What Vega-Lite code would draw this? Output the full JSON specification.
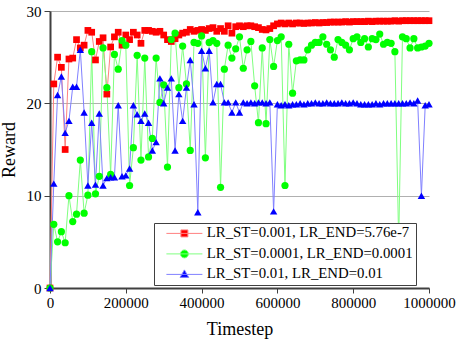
{
"$schema": "https://vega.github.io/schema/vega-lite/v6.json",
"width": 379, "height": 277,
"autosize": {"type": "none"},
"padding": {"left": 50, "top": 11, "right": 28, "bottom": 55},
"background": "white",
"config": {"view": {"stroke": null}, "font": "Liberation Serif",
  "legend": {"labelFont": "Liberation Serif, Times New Roman, serif", "labelFontSize": 14.8, "labelColor": "black"}},
"datasets": {
"rewards": [
{"s":"a","t":0,"r":0},{"s":"a","t":10000,"r":22.1},{"s":"a","t":20000,"r":25.0},{"s":"a","t":30000,"r":23.9},{"s":"a","t":40000,"r":15.0},{"s":"a","t":50000,"r":24.8},{"s":"a","t":60000,"r":24.9},{"s":"a","t":70000,"r":26.9},{"s":"a","t":80000,"r":26.0},{"s":"a","t":90000,"r":26.3},{"s":"a","t":100000,"r":27.9},
{"s":"a","t":110000,"r":27.7},{"s":"a","t":120000,"r":24.7},{"s":"a","t":130000,"r":26.7},{"s":"a","t":140000,"r":27.1},{"s":"a","t":150000,"r":21.0},{"s":"a","t":160000,"r":26.1},{"s":"a","t":170000,"r":27.2},{"s":"a","t":180000,"r":27.7},{"s":"a","t":190000,"r":26.3},{"s":"a","t":200000,"r":27.4},
{"s":"a","t":210000,"r":26.9},{"s":"a","t":220000,"r":27.7},{"s":"a","t":230000,"r":27.4},{"s":"a","t":240000,"r":26.5},{"s":"a","t":250000,"r":27.9},{"s":"a","t":260000,"r":27.9},{"s":"a","t":270000,"r":27.8},{"s":"a","t":280000,"r":27.7},{"s":"a","t":290000,"r":27.8},{"s":"a","t":300000,"r":27.4},
{"s":"a","t":310000,"r":26.9},{"s":"a","t":320000,"r":26.7},{"s":"a","t":330000,"r":27.0},{"s":"a","t":340000,"r":27.4},{"s":"a","t":350000,"r":27.6},{"s":"a","t":360000,"r":27.7},{"s":"a","t":370000,"r":28.0},{"s":"a","t":380000,"r":27.8},{"s":"a","t":390000,"r":27.9},{"s":"a","t":400000,"r":28.0},
{"s":"a","t":410000,"r":27.9},{"s":"a","t":420000,"r":28.1},{"s":"a","t":430000,"r":28.2},{"s":"a","t":440000,"r":27.8},{"s":"a","t":450000,"r":28.1},{"s":"a","t":460000,"r":27.8},{"s":"a","t":470000,"r":28.4},{"s":"a","t":480000,"r":27.6},{"s":"a","t":490000,"r":28.3},{"s":"a","t":500000,"r":28.4},
{"s":"a","t":510000,"r":28.3},{"s":"a","t":520000,"r":28.4},{"s":"a","t":530000,"r":28.4},{"s":"a","t":540000,"r":28.3},{"s":"a","t":550000,"r":28.2},{"s":"a","t":560000,"r":28.0},{"s":"a","t":570000,"r":27.95},{"s":"a","t":580000,"r":28.1},{"s":"a","t":590000,"r":28.4},{"s":"a","t":600000,"r":28.6},
{"s":"a","t":610000,"r":28.7},{"s":"a","t":620000,"r":28.6},{"s":"a","t":630000,"r":28.7},{"s":"a","t":640000,"r":28.6},{"s":"a","t":650000,"r":28.7},{"s":"a","t":660000,"r":28.7},{"s":"a","t":670000,"r":28.65},{"s":"a","t":680000,"r":28.7},{"s":"a","t":690000,"r":28.7},{"s":"a","t":700000,"r":28.75},
{"s":"a","t":710000,"r":28.7},{"s":"a","t":720000,"r":28.75},{"s":"a","t":730000,"r":28.75},{"s":"a","t":740000,"r":28.8},{"s":"a","t":750000,"r":28.8},{"s":"a","t":760000,"r":28.8},{"s":"a","t":770000,"r":28.8},{"s":"a","t":780000,"r":28.85},{"s":"a","t":790000,"r":28.8},{"s":"a","t":800000,"r":28.85},
{"s":"a","t":810000,"r":28.85},{"s":"a","t":820000,"r":28.85},{"s":"a","t":830000,"r":28.85},{"s":"a","t":840000,"r":28.9},{"s":"a","t":850000,"r":28.85},{"s":"a","t":860000,"r":28.9},{"s":"a","t":870000,"r":28.9},{"s":"a","t":880000,"r":28.9},{"s":"a","t":890000,"r":28.9},{"s":"a","t":900000,"r":28.9},
{"s":"a","t":910000,"r":28.95},{"s":"a","t":920000,"r":28.9},{"s":"a","t":930000,"r":28.95},{"s":"a","t":940000,"r":28.95},{"s":"a","t":950000,"r":28.95},{"s":"a","t":960000,"r":28.95},{"s":"a","t":970000,"r":28.95},{"s":"a","t":980000,"r":28.95},{"s":"a","t":990000,"r":28.95},{"s":"a","t":1000000,"r":28.95},
{"s":"b","t":0,"r":0},{"s":"b","t":10000,"r":6.9},{"s":"b","t":20000,"r":5.0},{"s":"b","t":30000,"r":6.1},{"s":"b","t":40000,"r":4.9},{"s":"b","t":50000,"r":10.0},{"s":"b","t":60000,"r":7.2},{"s":"b","t":70000,"r":8.0},{"s":"b","t":80000,"r":13.85},{"s":"b","t":90000,"r":8.1},{"s":"b","t":100000,"r":10.05},
{"s":"b","t":110000,"r":25.6},{"s":"b","t":120000,"r":10.2},{"s":"b","t":130000,"r":12.1},{"s":"b","t":140000,"r":26.0},{"s":"b","t":150000,"r":21.7},{"s":"b","t":160000,"r":12.3},{"s":"b","t":170000,"r":25.3},{"s":"b","t":180000,"r":23.7},{"s":"b","t":190000,"r":26.8},{"s":"b","t":200000,"r":26.3},
{"s":"b","t":210000,"r":11.1},{"s":"b","t":220000,"r":15.2},{"s":"b","t":230000,"r":25.2},{"s":"b","t":240000,"r":13.85},{"s":"b","t":250000,"r":24.9},{"s":"b","t":260000,"r":14.2},{"s":"b","t":270000,"r":16.2},{"s":"b","t":280000,"r":24.9},{"s":"b","t":290000,"r":20.1},{"s":"b","t":300000,"r":22.0},
{"s":"b","t":310000,"r":13.1},{"s":"b","t":320000,"r":26.9},{"s":"b","t":330000,"r":27.6},{"s":"b","t":340000,"r":21.7},{"s":"b","t":350000,"r":26.2},{"s":"b","t":360000,"r":22.1},{"s":"b","t":370000,"r":14.9},{"s":"b","t":380000,"r":26.6},{"s":"b","t":390000,"r":26.5},{"s":"b","t":400000,"r":27.3},
{"s":"b","t":410000,"r":14.1},{"s":"b","t":420000,"r":26.6},{"s":"b","t":430000,"r":26.8},{"s":"b","t":440000,"r":26.5},{"s":"b","t":450000,"r":10.9},{"s":"b","t":460000,"r":23.7},{"s":"b","t":470000,"r":26.3},{"s":"b","t":480000,"r":24.9},{"s":"b","t":490000,"r":25.9},{"s":"b","t":500000,"r":27.2},
{"s":"b","t":510000,"r":23.8},{"s":"b","t":520000,"r":25.8},{"s":"b","t":530000,"r":26.7},{"s":"b","t":540000,"r":21.9},{"s":"b","t":550000,"r":17.9},{"s":"b","t":560000,"r":26.0},{"s":"b","t":570000,"r":17.8},{"s":"b","t":580000,"r":26.9},{"s":"b","t":590000,"r":24.0},{"s":"b","t":600000,"r":26.8},
{"s":"b","t":610000,"r":27.2},{"s":"b","t":620000,"r":11.1},{"s":"b","t":630000,"r":26.4},{"s":"b","t":640000,"r":21.1},{"s":"b","t":650000,"r":24.6},{"s":"b","t":660000,"r":24.7},{"s":"b","t":670000,"r":24.7},{"s":"b","t":680000,"r":25.8},{"s":"b","t":690000,"r":26.3},{"s":"b","t":700000,"r":26.6},
{"s":"b","t":710000,"r":26.6},{"s":"b","t":720000,"r":27.2},{"s":"b","t":730000,"r":26.4},{"s":"b","t":740000,"r":25.8},{"s":"b","t":750000,"r":25.0},{"s":"b","t":760000,"r":26.9},{"s":"b","t":770000,"r":26.6},{"s":"b","t":780000,"r":26.3},{"s":"b","t":790000,"r":25.8},{"s":"b","t":800000,"r":27.0},
{"s":"b","t":810000,"r":27.2},{"s":"b","t":820000,"r":26.6},{"s":"b","t":830000,"r":27.0},{"s":"b","t":840000,"r":26.1},{"s":"b","t":850000,"r":27.0},{"s":"b","t":860000,"r":26.9},{"s":"b","t":870000,"r":27.5},{"s":"b","t":880000,"r":26.4},{"s":"b","t":890000,"r":26.6},{"s":"b","t":900000,"r":26.5},
{"s":"b","t":910000,"r":25.6},{"s":"b","t":920000,"r":5.0},{"s":"b","t":930000,"r":27.2},{"s":"b","t":940000,"r":27.0},{"s":"b","t":950000,"r":26.0},{"s":"b","t":960000,"r":27.0},{"s":"b","t":970000,"r":26.0},{"s":"b","t":980000,"r":26.1},{"s":"b","t":990000,"r":26.2},{"s":"b","t":1000000,"r":26.5},
{"s":"c","t":0,"r":0},{"s":"c","t":10000,"r":11.3},{"s":"c","t":20000,"r":20.9},{"s":"c","t":30000,"r":22.9},{"s":"c","t":40000,"r":16.8},{"s":"c","t":50000,"r":18.1},{"s":"c","t":60000,"r":21.8},{"s":"c","t":70000,"r":21.8},{"s":"c","t":80000,"r":25.8},{"s":"c","t":90000,"r":19.0},{"s":"c","t":100000,"r":11.1},
{"s":"c","t":110000,"r":17.9},{"s":"c","t":120000,"r":11.2},{"s":"c","t":130000,"r":18.9},{"s":"c","t":140000,"r":11.1},{"s":"c","t":150000,"r":11.9},{"s":"c","t":160000,"r":12.0},{"s":"c","t":170000,"r":12.0},{"s":"c","t":180000,"r":19.8},{"s":"c","t":190000,"r":12.1},{"s":"c","t":200000,"r":12.2},
{"s":"c","t":210000,"r":12.95},{"s":"c","t":220000,"r":19.8},{"s":"c","t":230000,"r":18.8},{"s":"c","t":240000,"r":18.1},{"s":"c","t":250000,"r":18.9},{"s":"c","t":260000,"r":17.9},{"s":"c","t":270000,"r":14.9},{"s":"c","t":280000,"r":15.8},{"s":"c","t":290000,"r":22.7},{"s":"c","t":300000,"r":20.0},
{"s":"c","t":310000,"r":21.7},{"s":"c","t":320000,"r":22.7},{"s":"c","t":330000,"r":14.9},{"s":"c","t":340000,"r":21.0},{"s":"c","t":350000,"r":18.1},{"s":"c","t":360000,"r":21.7},{"s":"c","t":370000,"r":24.7},{"s":"c","t":380000,"r":19.9},{"s":"c","t":390000,"r":8.2},{"s":"c","t":400000,"r":25.7},
{"s":"c","t":410000,"r":23.8},{"s":"c","t":420000,"r":25.7},{"s":"c","t":430000,"r":20.1},{"s":"c","t":440000,"r":22.1},{"s":"c","t":450000,"r":22.1},{"s":"c","t":460000,"r":20.1},{"s":"c","t":470000,"r":20.1},{"s":"c","t":480000,"r":19.0},{"s":"c","t":490000,"r":20.1},{"s":"c","t":500000,"r":19.0},
{"s":"c","t":510000,"r":20.1},{"s":"c","t":520000,"r":20.0},{"s":"c","t":530000,"r":20.1},{"s":"c","t":540000,"r":20.0},{"s":"c","t":550000,"r":20.1},{"s":"c","t":560000,"r":20.1},{"s":"c","t":570000,"r":20.0},{"s":"c","t":580000,"r":20.1},{"s":"c","t":590000,"r":8.3},{"s":"c","t":600000,"r":19.9},
{"s":"c","t":610000,"r":19.8},{"s":"c","t":620000,"r":19.9},{"s":"c","t":630000,"r":19.8},{"s":"c","t":640000,"r":19.9},{"s":"c","t":650000,"r":19.9},{"s":"c","t":660000,"r":20.0},{"s":"c","t":670000,"r":19.9},{"s":"c","t":680000,"r":20.0},{"s":"c","t":690000,"r":20.0},{"s":"c","t":700000,"r":20.1},
{"s":"c","t":710000,"r":20.0},{"s":"c","t":720000,"r":20.0},{"s":"c","t":730000,"r":20.1},{"s":"c","t":740000,"r":20.0},{"s":"c","t":750000,"r":20.0},{"s":"c","t":760000,"r":20.0},{"s":"c","t":770000,"r":20.1},{"s":"c","t":780000,"r":20.0},{"s":"c","t":790000,"r":20.0},{"s":"c","t":800000,"r":20.1},
{"s":"c","t":810000,"r":20.0},{"s":"c","t":820000,"r":19.9},{"s":"c","t":830000,"r":19.9},{"s":"c","t":840000,"r":19.9},{"s":"c","t":850000,"r":19.9},{"s":"c","t":860000,"r":20.0},{"s":"c","t":870000,"r":19.9},{"s":"c","t":880000,"r":20.0},{"s":"c","t":890000,"r":20.0},{"s":"c","t":900000,"r":20.0},
{"s":"c","t":910000,"r":20.0},{"s":"c","t":920000,"r":20.0},{"s":"c","t":930000,"r":20.0},{"s":"c","t":940000,"r":20.0},{"s":"c","t":950000,"r":20.1},{"s":"c","t":960000,"r":20.0},{"s":"c","t":970000,"r":20.3},{"s":"c","t":980000,"r":10.0},{"s":"c","t":990000,"r":19.8},{"s":"c","t":1000000,"r":19.9}
]
},
"data": {"name": "rewards"},
"encoding": {
  "x": {"field": "t", "type": "quantitative", "scale": {"domain": [0, 1000000]},
    "axis": {"title": "Timestep", "values": [0,200000,400000,600000,800000,1000000], "format": "d", "grid": false,
      "labelFont": "Liberation Serif", "labelFontSize": 15, "labelColor": "black", "labelFlush": false, "labelOverlap": false,
      "titleFont": "Liberation Serif", "titleFontSize": 18, "titleFontWeight": "normal", "titleColor": "black", "titlePadding": 10,
      "domainColor": "#404040", "domainWidth": 2, "tickColor": "#404040", "tickWidth": 1, "tickSize": 5, "labelPadding": 2}},
  "y": {"field": "r", "type": "quantitative", "scale": {"domain": [0, 30]},
    "axis": {"title": "Reward", "values": [0,10,20,30], "grid": true, "gridColor": "#b0b0b0", "gridWidth": 1,
      "labelFont": "Liberation Serif", "labelFontSize": 15, "labelColor": "black", "labelFlush": false,
      "titleFont": "Liberation Serif", "titleFontSize": 18, "titleFontWeight": "normal", "titleColor": "black", "titlePadding": 8,
      "domainColor": "#404040", "domainWidth": 2, "tickColor": "#404040", "tickWidth": 1, "tickSize": 6, "labelPadding": 3}}
},
"layer": [
  {"mark": {"type": "line", "strokeWidth": 1, "opacity": 1},
   "encoding": {"color": {"field": "s", "type": "nominal",
     "scale": {"domain": ["a","b","c"], "range": ["#ff8080","#80ff80","#8080ff"]},
     "legend": {"orient": "none", "legendX": 104, "legendY": 212, "title": null,
         "labelFont": "Liberation Serif, Times New Roman, serif", "labelFontSize": 14.8, "labelColor": "black", "labelLimit": 400,
         "labelExpr": "datum.label == 'a' ? 'LR_ST=0.001, LR_END=5.76e-7' : datum.label == 'b' ? 'LR_ST=0.0001, LR_END=0.0001' : 'LR_ST=0.01, LR_END=0.01'",
         "symbolSize": 144, "symbolOffset": 20, "labelOffset": 15, "padding": 3, "rowPadding": 4.5,
         "symbolOpacity": 1, "symbolStrokeWidth": 1,
         "symbolType": {"expr": "datum.value == 'a' ? 'M-3,0H3M-0.58,-0.58H0.58V0.58H-0.58Z' : datum.value == 'b' ? 'M-3,0H3M0.67,0A0.67,0.67 0 1,1 -0.67,0A0.67,0.67 0 1,1 0.67,0Z' : 'M-3,0H3M0,-0.75L0.72,0.5H-0.72Z'"},
         "symbolFillColor": {"expr": "datum.value == 'a' ? '#ff0000' : datum.value == 'b' ? '#00ff00' : '#0000ff'"},
         "strokeColor": "#404040", "fillColor": "white"}}}},
  {"transform": [{"filter": {"field": "s", "equal": "a"}}],
   "mark": {"type": "point", "shape": "square", "filled": true, "opacity": 1, "size": 45, "color": "#ff0000", "strokeWidth": 0}},
  {"transform": [{"filter": {"field": "s", "equal": "b"}}],
   "mark": {"type": "point", "shape": "circle", "filled": true, "opacity": 1, "size": 52, "color": "#00ff00", "strokeWidth": 0}},
  {"transform": [{"filter": {"field": "s", "equal": "c"}}],
   "mark": {"type": "point", "shape": "triangle-up", "filled": true, "opacity": 1, "size": 55, "color": "#0000ff", "strokeWidth": 0}}
]
}
